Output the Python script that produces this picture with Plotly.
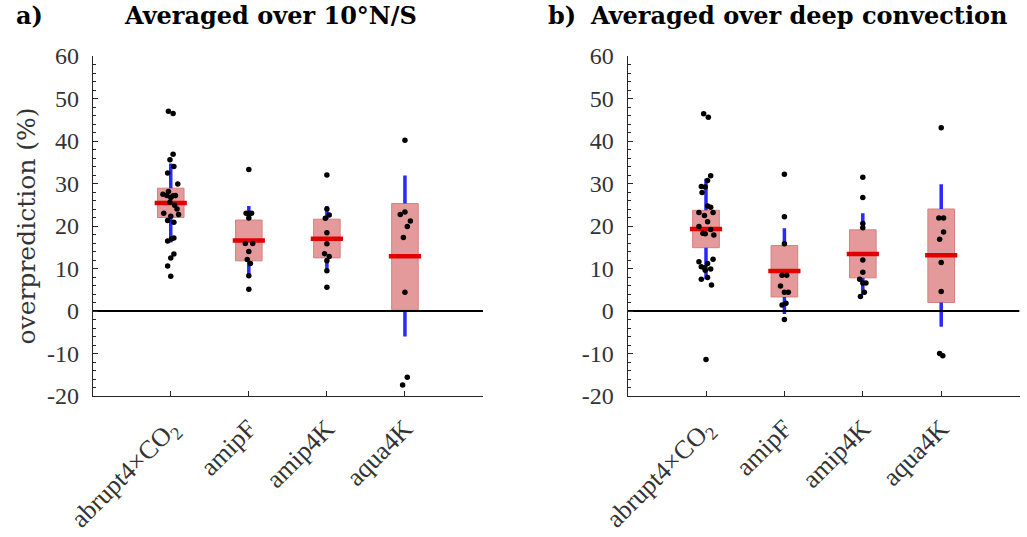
import plotly.graph_objects as go

# ---------------- data ----------------
categories = ["abrupt4×CO<sub>2</sub>", "amipF", "amip4K", "aqua4K"]
cat_pos = [1, 2, 3, 4]
y_ticks = [-20, -10, 0, 10, 20, 30, 40, 50, 60]
y_ticktext = ["-20", "-10", "0", "10", "20", "30", "40", "50", "60"]

# panel a: averaged over 10N/S
a_box_lo = [22.0, 11.8, 12.5, 0.2]
a_box_hi = [28.9, 21.4, 21.6, 25.3]
a_median = [25.4, 16.6, 17.0, 12.9]
a_whisk_lo = [16.1, 7.8, 9.2, -6.0]
a_whisk_hi = [34.7, 24.7, 24.7, 31.9]

a_pts_abrupt = [47.0, 46.5, 36.9, 35.6, 34.0, 32.5, 29.9, 28.1, 27.5, 27.2,
                27.2, 27.1, 26.7, 25.6, 24.9, 24.0, 23.0, 22.7, 22.3, 21.3,
                20.9, 17.2, 17.0, 16.5, 13.4, 12.5, 10.6, 8.2]
a_jit_abrupt = [-0.03, 0.03, 0.03, -0.01, 0.04, -0.04, 0.09, -0.03, -0.10, -0.05,
                0.06, 0.03, 0.0, -0.01, 0.05, 0.08, -0.09, 0.10, 0.0, -0.04,
                0.04, 0.04, 0.01, -0.04, 0.04, 0.0, -0.04, 0.0]
a_pts_amipF = [33.3, 23.0, 23.0, 23.0, 21.9, 15.9, 15.9, 14.0, 12.1, 11.2, 8.3, 5.1]
a_jit_amipF = [0.0, -0.035, 0.0, 0.035, 0.0, -0.045, 0.05, 0.0, -0.02, 0.02, 0.0, 0.0]
a_pts_amip4K = [32.0, 24.0, 22.6, 21.8, 18.4, 15.8, 13.5, 12.8, 11.8, 9.5, 5.6]
a_jit_amip4K = [0.0, 0.0, 0.03, -0.02, 0.0, 0.0, -0.03, 0.03, 0.0, 0.0, 0.0]
a_pts_aqua4K = [40.2, 23.3, 22.7, 21.2, 19.9, 17.3, 4.4, -15.6, -17.4]
a_jit_aqua4K = [0.0, 0.0, -0.06, 0.07, 0.03, -0.02, 0.0, 0.03, -0.03]

# panel b: averaged over deep convection
b_box_lo = [14.9, 3.3, 7.8, 2.0]
b_box_hi = [23.7, 15.4, 19.1, 24.0]
b_median = [19.3, 9.4, 13.4, 13.1]
b_whisk_lo = [7.5, -0.7, 3.8, -3.7]
b_whisk_hi = [31.1, 19.5, 23.0, 29.8]

b_pts_abrupt = [46.4, 45.6, 31.8, 30.7, 29.3, 29.2, 27.9, 24.7, 24.4, 23.2,
                23.2, 22.5, 21.0, 19.9, 19.2, 18.3, 18.2, 17.9, 12.2, 11.6,
                11.2, 10.4, 10.2, 9.9, 9.6, 7.9, 7.5, 6.1, -11.4]
b_jit_abrupt = [-0.03, 0.03, 0.06, 0.02, -0.06, -0.01, -0.05, 0.02, 0.06, -0.09,
                0.09, -0.02, 0.02, -0.09, 0.06, -0.04, -0.01, 0.10, 0.09, -0.09,
                0.02, -0.06, -0.02, 0.06, -0.01, 0.02, -0.06, 0.07, 0.0]
b_pts_amipF = [32.2, 22.2, 15.8, 8.4, 8.4, 5.9, 4.4, 4.4, 1.8, 1.4, -2.0]
b_jit_amipF = [0.0, 0.0, 0.0, -0.03, 0.03, -0.05, 0.0, 0.05, 0.02, -0.03, 0.0]
b_pts_amip4K = [31.5, 26.7, 20.6, 19.6, 12.0, 9.1, 7.5, 6.6, 6.6, 4.4, 3.4]
b_jit_amip4K = [0.0, 0.0, 0.0, 0.0, 0.0, 0.0, -0.04, 0.0, 0.04, 0.02, -0.03]
b_pts_aqua4K = [43.1, 21.9, 21.9, 18.6, 16.9, 11.4, 4.6, -10.0, -10.5]
b_jit_aqua4K = [0.0, -0.03, 0.03, 0.03, -0.02, 0.0, 0.0, -0.02, 0.02]

# ---------------- styles ----------------
BOX_FILL = "rgb(228,154,154)"
BOX_EDGE = "rgb(212,128,128)"
MED_COL = "rgb(225,0,0)"
WHISK_COL = "rgb(40,40,255)"
AX_COL = "#262626"
YTICK_FONT = dict(family="Liberation Serif", size=24, color="#333333")
XTICK_FONT = dict(family="Liberation Serif", size=26, color="#333333")
TITLE_FONT = dict(family="DejaVu Serif", size=24, color="black")

fig = go.Figure()


def add_panel(xa, ya, box_lo, box_hi, med, wlo, whi, pts, jits):
    # whiskers only outside the box (box is drawn opaque over them in the reference)
    wx, wy = [], []
    for c, lo, hi, blo, bhi in zip(cat_pos, wlo, whi, box_lo, box_hi):
        if hi > bhi:
            wx += [c, c, None]
            wy += [bhi, hi, None]
        if lo < blo:
            wx += [c, c, None]
            wy += [lo, blo, None]
    fig.add_trace(go.Bar(x=cat_pos, y=[h - l for l, h in zip(box_lo, box_hi)], base=box_lo,
                         width=0.34, xaxis=xa, yaxis=ya,
                         marker=dict(color=BOX_FILL, line=dict(color=BOX_EDGE, width=1))))
    fig.add_trace(go.Scatter(x=wx, y=wy, mode="lines", xaxis=xa, yaxis=ya,
                             line=dict(color=WHISK_COL, width=3.5), hoverinfo="skip"))
    fig.add_trace(go.Scatter(x=cat_pos, y=med, mode="markers", xaxis=xa, yaxis=ya,
                             marker=dict(symbol="line-ew", size=23,
                                         line=dict(color=MED_COL, width=4.5))))
    fig.add_trace(go.Scatter(x=[0, 5], y=[0, 0], mode="lines", xaxis=xa, yaxis=ya,
                             line=dict(color="black", width=2), hoverinfo="skip"))
    px, py = [], []
    for c, vals, jit in zip(cat_pos, pts, jits):
        px += [c + j for j in jit]
        py += vals
    fig.add_trace(go.Scatter(x=px, y=py, mode="markers", xaxis=xa, yaxis=ya,
                             marker=dict(color="black", size=5.5)))


add_panel("x", "y", a_box_lo, a_box_hi, a_median, a_whisk_lo, a_whisk_hi,
          [a_pts_abrupt, a_pts_amipF, a_pts_amip4K, a_pts_aqua4K],
          [a_jit_abrupt, a_jit_amipF, a_jit_amip4K, a_jit_aqua4K])
add_panel("x2", "y2", b_box_lo, b_box_hi, b_median, b_whisk_lo, b_whisk_hi,
          [b_pts_abrupt, b_pts_amipF, b_pts_amip4K, b_pts_aqua4K],
          [b_jit_abrupt, b_jit_amipF, b_jit_amip4K, b_jit_aqua4K])

W, H = 1027, 537
y_dom = [(H - 396) / H, (H - 56) / H]


def xaxis(dom, anchor):
    return dict(domain=dom, anchor=anchor, range=[0, 5], tickvals=cat_pos, ticktext=categories,
                tickangle=-45, ticks="inside", ticklen=5, tickcolor=AX_COL, showline=True,
                linecolor=AX_COL, linewidth=1, showgrid=False, zeroline=False,
                tickfont=XTICK_FONT, ticklabelstandoff=6, fixedrange=True, automargin=False)


def yaxis(anchor, title):
    d = dict(domain=y_dom, anchor=anchor, range=[-20, 60], tickvals=y_ticks, ticktext=y_ticktext,
             ticks="inside", ticklen=5, tickcolor=AX_COL, showline=True, linecolor=AX_COL,
             linewidth=1, showgrid=False, zeroline=False, tickfont=YTICK_FONT,
             ticklabelstandoff=8, automargin=False,
             minor=dict(dtick=2, ticks="inside", ticklen=3, tickcolor=AX_COL, showgrid=False),
             fixedrange=True)
    if title:
        d["title"] = dict(text=title, font=dict(family="DejaVu Serif", size=25, color="#333333"),
                          standoff=4)
    return d


fig.update_layout(
    width=W, height=H, margin=dict(l=0, r=0, t=0, b=0, autoexpand=False),
    paper_bgcolor="white", plot_bgcolor="white", showlegend=False,
    xaxis=xaxis([92.7 / W, 483 / W], "y"),
    yaxis=yaxis("x", "overprediction (%)"),
    xaxis2=xaxis([627.6 / W, 1019.6 / W], "y2"),
    yaxis2=yaxis("x2", None),
    annotations=[
        dict(text="<b>a)</b>", x=14 / W, y=1 - 16 / H, xref="paper", yref="paper",
             xanchor="left", yanchor="middle", showarrow=False, font=TITLE_FONT),
        dict(text="<b>Averaged over 10°N/S</b>", x=270.5 / W, y=1 - 16 / H, xref="paper",
             yref="paper", xanchor="center", yanchor="middle", showarrow=False, font=TITLE_FONT),
        dict(text="<b>b)</b>", x=546 / W, y=1 - 16 / H, xref="paper", yref="paper",
             xanchor="left", yanchor="middle", showarrow=False, font=TITLE_FONT),
        dict(text="<b>Averaged over deep convection</b>", x=798 / W, y=1 - 16 / H, xref="paper",
             yref="paper", xanchor="center", yanchor="middle", showarrow=False, font=TITLE_FONT),
    ],
)

fig.write_html("out.html")
